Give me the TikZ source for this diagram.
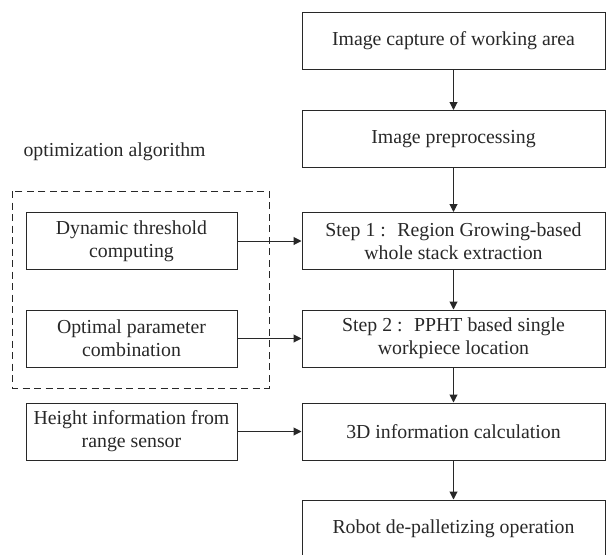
\documentclass[tikz,border=0pt]{standalone}
\usepackage{fontspec}
\setmainfont{Liberation Serif}
\usetikzlibrary{positioning, arrows.meta}
\definecolor{flowgray}{RGB}{40, 40, 40}
\tikzset{
  procbox/.style={
    draw=flowgray,
    line width=1pt,
    fill=white,
    minimum width=303pt,
    minimum height=57pt,
    inner sep=2pt,
    align=center,
    font=\fontsize{19.8}{23.3}\selectfont\color{flowgray}
  },
  inputbox/.style={
    procbox,
    minimum width=211pt
  },
  flow/.style={
    -{Triangle[length=8pt,width=8pt]},
    line width=1pt,
    draw=flowgray
  },
  groupline/.style={
    draw=flowgray,
    line width=1pt,
    dash pattern=on 7pt off 4.5pt
  }
}
\begin{document}
\begin{tikzpicture}[x=1pt, y=-1pt]
  \useasboundingbox (0,0) rectangle (606,555);
  % main chain
  \node[procbox] (capture) at (453.5, 40.5) {Image capture of working area};
  \node[procbox] (prep) at (453.5, 139) {Image preprocessing};
  \node[procbox] (step1) at (453.5, 241) {Step 1 : \ Region Growing-based\\whole stack extraction};
  \node[procbox] (step2) at (453.5, 338.5) {Step 2 : \ PPHT based single\\workpiece location};
  \node[procbox] (calc) at (453.5, 431.5) {3D information calculation};
  \node[procbox] (robot) at (453.5, 528.5) {Robot de-palletizing operation};

  % side inputs
  \draw[groupline] (12.5, 191) rectangle (269, 388);
  \node[anchor=west, font=\fontsize{19.8}{23.3}\selectfont\color{flowgray}] (optlabel) at (20, 152) {optimization algorithm};
  \node[inputbox] (thresh) at (131.5, 241) {Dynamic threshold\\computing};
  \node[inputbox] (param) at (131.5, 338.5) {Optimal parameter\\combination};
  \node[inputbox] (height) at (131.5, 431.5) {Height information from\\range sensor};

  \draw[flow] (capture) -- (prep);
  \draw[flow] (prep) -- (step1);
  \draw[flow] (step1) -- (step2);
  \draw[flow] (step2) -- (calc);
  \draw[flow] (calc) -- (robot);
  \draw[flow] (thresh) -- (step1);
  \draw[flow] (param) -- (step2);
  \draw[flow] (height) -- (calc);
\end{tikzpicture}
\end{document}
